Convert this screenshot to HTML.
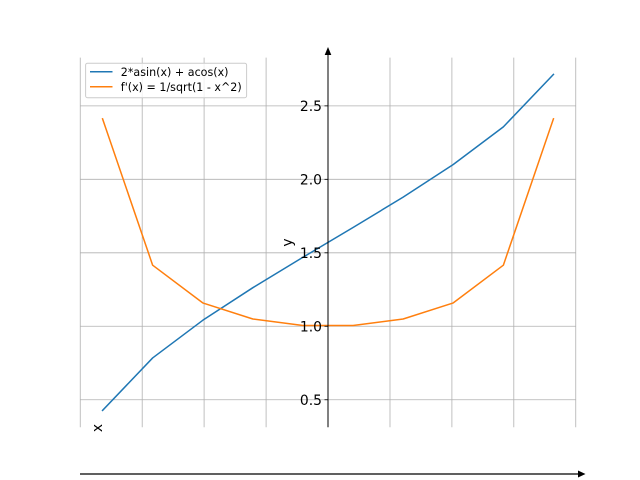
<!DOCTYPE html>
<html>
<head>
<meta charset="utf-8">
<style>
html,body{margin:0;padding:0;background:#fff;}
svg{display:block;}
text{font-family:"DejaVu Sans","Liberation Sans",sans-serif;fill:#000;}
</style>
</head>
<body>
<svg width="640" height="480" viewBox="0 0 640 480" xmlns="http://www.w3.org/2000/svg">
<rect x="0" y="0" width="640" height="480" fill="#ffffff"/>
<!-- grid -->
<g stroke="#b0b0b0" stroke-width="0.8" fill="none">
<line x1="80.25" y1="57.6" x2="80.25" y2="427.2"/>
<line x1="142.2" y1="57.6" x2="142.2" y2="427.2"/>
<line x1="204.1" y1="57.6" x2="204.1" y2="427.2"/>
<line x1="266.1" y1="57.6" x2="266.1" y2="427.2"/>
<line x1="390" y1="57.6" x2="390" y2="427.2"/>
<line x1="451.9" y1="57.6" x2="451.9" y2="427.2"/>
<line x1="513.8" y1="57.6" x2="513.8" y2="427.2"/>
<line x1="575.75" y1="57.6" x2="575.75" y2="427.2"/>
<line x1="80" y1="399.75" x2="576" y2="399.75"/>
<line x1="80" y1="326.28" x2="576" y2="326.28"/>
<line x1="80" y1="252.8" x2="576" y2="252.8"/>
<line x1="80" y1="179.33" x2="576" y2="179.33"/>
<line x1="80" y1="105.85" x2="576" y2="105.85"/>
</g>
<!-- series -->
<polyline fill="none" stroke="#1f77b4" stroke-width="1.5" stroke-linejoin="round" stroke-linecap="square"
 points="102.55,410.40 152.65,357.95 202.75,320.29 252.85,287.69 302.95,257.28 353.05,227.52 403.15,197.11 453.25,164.52 503.35,126.85 553.45,74.40"/>
<polyline fill="none" stroke="#ff7f0e" stroke-width="1.5" stroke-linejoin="round" stroke-linecap="square"
 points="102.55,118.80 152.65,265.21 202.75,302.91 252.85,319.01 302.95,325.52 353.05,325.52 403.15,319.01 453.25,302.91 503.35,265.21 553.45,118.80"/>
<!-- y spine -->
<line x1="328" y1="427.2" x2="328" y2="51" stroke="#000" stroke-width="1"/>
<polygon points="328,47 324.7,55 331.3,55" fill="#000"/>
<!-- y ticks -->
<g stroke="#000" stroke-width="0.8">
<line x1="324.5" y1="399.75" x2="328" y2="399.75"/>
<line x1="324.5" y1="326.28" x2="328" y2="326.28"/>
<line x1="324.5" y1="252.8" x2="328" y2="252.8"/>
<line x1="324.5" y1="179.33" x2="328" y2="179.33"/>
<line x1="324.5" y1="105.85" x2="328" y2="105.85"/>
</g>
<g font-size="13.89" text-anchor="end">
<text x="322" y="404.8">0.5</text>
<text x="322" y="331.3">1.0</text>
<text x="322" y="257.8">1.5</text>
<text x="322" y="184.4">2.0</text>
<text x="322" y="110.9">2.5</text>
</g>
<!-- x spine -->
<line x1="80" y1="474" x2="580" y2="474" stroke="#000" stroke-width="1.2"/>
<polygon points="585.5,474 578,470.5 578,477.5" fill="#000"/>
<!-- axis labels -->
<text font-size="13.89" text-anchor="middle" dominant-baseline="central" transform="translate(288,242.5) rotate(-90)">y</text>
<text font-size="13.89" text-anchor="middle" dominant-baseline="central" transform="translate(98,428) rotate(-90)">x</text>
<!-- legend -->
<rect x="85.6" y="63.2" width="161" height="34.5" rx="2" ry="2" fill="#ffffff" fill-opacity="0.8" stroke="#cccccc" stroke-width="1"/>
<line x1="90" y1="71.7" x2="112.5" y2="71.7" stroke="#1f77b4" stroke-width="1.5"/>
<line x1="90" y1="86.7" x2="112.5" y2="86.7" stroke="#ff7f0e" stroke-width="1.5"/>
<text x="120.8" y="76" font-size="11.11">2*asin(x) + acos(x)</text>
<text x="120.8" y="91" font-size="11.11">f'(x) = 1/sqrt(1 - x^2)</text>
</svg>
</body>
</html>
